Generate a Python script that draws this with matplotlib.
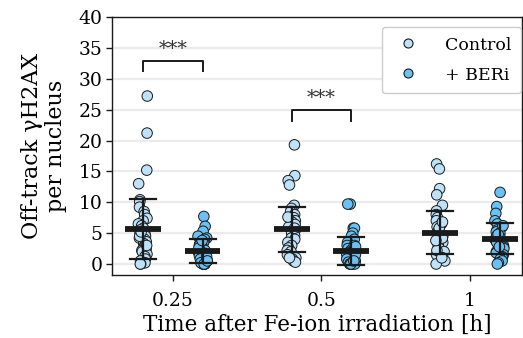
import matplotlib
matplotlib.use("Agg")
import matplotlib.pyplot as plt
from matplotlib.lines import Line2D
import numpy as np
import pandas as pd
import seaborn as sns

# time points (categories) and groups
times = ["0.25", "0.5", "1"]
groups = ["Control", "+ BERi"]

# per-nucleus counts
ctrl_025 = [27.2, 21.2, 15.2, 13.0, 10.4, 10.1, 9.2, 8.5, 8.0, 7.4, 7.0, 6.5, 6.2, 5.8, 5.5,
            5.0, 4.8, 4.5, 4.2, 4.0, 3.6, 3.3, 3.0, 2.8, 2.5, 2.2, 2.0, 1.6, 1.2, 0.8, 0.5,
            0.2, 0.0, 0.0, 3.0, 4.5, 5.2]
beri_025 = [7.7, 6.1, 5.3, 4.5, 4.2, 4.0, 3.5, 3.2, 3.0, 2.8, 2.5, 2.2, 2.0, 1.8, 1.5, 1.3,
            1.0, 0.8, 0.5, 0.3, 0.0, 0.0, 0.0, 0.0, 0.2, 0.7, 1.2, 2.6, 3.8, 0.0, 0.5]
ctrl_05 = [19.3, 14.3, 13.5, 12.8, 9.5, 9.0, 8.5, 8.0, 7.5, 7.0, 6.8, 6.4, 6.0, 5.5, 5.2,
           5.0, 4.6, 4.2, 4.0, 3.5, 3.0, 2.6, 2.2, 2.0, 1.5, 1.0, 0.8, 0.5, 0.3, 1.0, 7.6, 5.8]
beri_05 = [9.7, 9.7, 5.8, 5.8, 5.0, 4.5, 4.0, 3.5, 3.0, 2.5, 2.2, 2.0, 1.8, 1.5, 1.2, 1.0,
           0.8, 0.5, 0.3, 0.0, 0.0, 0.0, 0.0, 0.0, 1.5, 3.0, 2.8, 0.5]
ctrl_1 = [16.2, 15.4, 12.2, 11.2, 9.5, 8.6, 8.0, 7.5, 7.0, 6.5, 6.0, 5.5, 5.0, 4.5, 4.0, 3.5,
          3.0, 2.5, 2.0, 1.5, 1.0, 0.5, 0.0, 5.8, 4.2, 2.2, 6.8, 3.8, 1.0]
beri_1 = [11.6, 9.3, 8.2, 7.0, 6.5, 6.0, 5.5, 5.2, 5.0, 4.6, 4.3, 4.0, 3.8, 3.5, 3.2, 3.0,
          2.7, 2.5, 2.2, 2.0, 1.8, 1.5, 1.2, 1.0, 0.8, 0.5, 0.2, 0.0, 4.8, 3.5, 6.2, 2.8]

# mean and SD bars as drawn
ctrl_mean = [5.7, 5.6, 5.1]
ctrl_sd = [4.9, 3.6, 3.5]
beri_mean = [2.1, 2.1, 4.1]
beri_sd = [1.95, 2.3, 2.5]

# significance brackets: time index, bracket height, label
sig_idx = [0, 1]
sig_y = [32.9, 24.9]
sig_label = ["***", "***"]

colors = {"Control": "#BEE2F9", "+ BERi": "#6BC1F4"}

rows = []
for t, c, b in zip(times, [ctrl_025, ctrl_05, ctrl_1], [beri_025, beri_05, beri_1]):
    rows += [(t, "Control", v) for v in c]
    rows += [(t, "+ BERi", v) for v in b]
df = pd.DataFrame(rows, columns=["time", "group", "value"])

plt.rcParams["font.family"] = ["DejaVu Serif"]

fig = plt.figure(figsize=(5.23, 3.38), dpi=100)
ax = fig.add_axes([112 / 523, 63 / 338, 410 / 523, 258 / 338])

ax.yaxis.grid(True, color="#EBEBEB", lw=1.6, zorder=0)
ax.set_axisbelow(True)

sns.stripplot(data=df, x="time", y="value", hue="group", order=times, hue_order=groups,
              palette=colors, dodge=True, jitter=0.065, size=7.6, linewidth=0.7,
              edgecolor="#1a1a1a", ax=ax, legend=False, zorder=2)

offs = [-0.2, 0.2]
for k, (means, sds) in enumerate([(ctrl_mean, ctrl_sd), (beri_mean, beri_sd)]):
    for i in range(len(times)):
        x = i + offs[k]
        m, s = means[i], sds[i]
        ax.plot([x, x], [m - s, m + s], color="#1a1a1a", lw=1.6, zorder=4)
        ax.plot([x - 0.088, x + 0.088], [m - s, m - s], color="#1a1a1a", lw=1.6, zorder=4)
        ax.plot([x - 0.088, x + 0.088], [m + s, m + s], color="#1a1a1a", lw=1.6, zorder=4)
        ax.plot([x - 0.12, x + 0.12], [m, m], color="#1a1a1a", lw=4.2, zorder=5,
                solid_capstyle="butt")

for i, y, lab in zip(sig_idx, sig_y, sig_label):
    ax.plot([i - 0.2, i - 0.2, i + 0.2, i + 0.2], [y - 1.7, y, y, y - 1.7],
            color="#1a1a1a", lw=1.4)
    ax.text(i, y + 0.5, lab, ha="center", va="bottom", fontsize=14, color="#333333")

ax.set_xlim(-0.41, 2.35)
ax.set_ylim(-1.78, 40)
ax.set_yticks(np.arange(0, 41, 5))
ax.set_xlabel("Time after Fe-ion irradiation [h]", fontsize=15.5, labelpad=3)
ax.set_ylabel("Off-track γH2AX\nper nucleus", fontsize=16, labelpad=8, linespacing=1.1)
ax.tick_params(axis="both", labelsize=13.5, length=4, width=1, color="#1a1a1a", pad=3)
ax.tick_params(axis="x", pad=8)
for sp in ax.spines.values():
    sp.set_color("#1a1a1a")
    sp.set_linewidth(1)

handles = [Line2D([], [], ls="none", marker="o", markersize=6.5, markerfacecolor=colors[g],
                  markeredgecolor="#1a1a1a", markeredgewidth=0.8) for g in groups]
ax.legend(handles, groups, loc="upper right", fontsize=12.5, frameon=True,
          edgecolor="#CCCCCC", handlelength=1.9, handletextpad=1.2, labelspacing=0.75,
          borderpad=0.55, borderaxespad=0, framealpha=1,
          bbox_to_anchor=(521 / 523, (338 - 27) / 338), bbox_transform=fig.transFigure)

fig.savefig("out.png", dpi=100)
